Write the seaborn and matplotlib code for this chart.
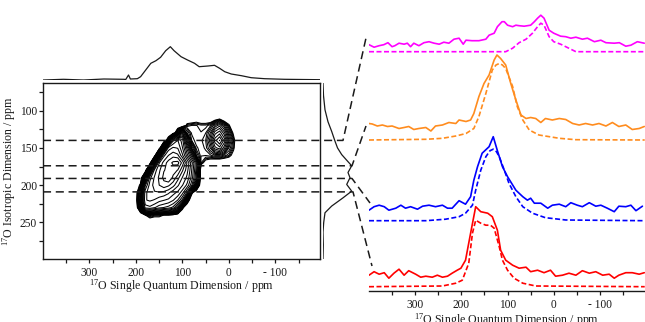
import numpy as np
import matplotlib
matplotlib.use("Agg")
import matplotlib.pyplot as plt
import seaborn as sns
from matplotlib.lines import Line2D

sns.set_theme(style="ticks")
plt.rcParams["font.family"] = ["Liberation Serif", "DejaVu Serif"]
plt.rcParams["mathtext.fontset"] = "custom"
plt.rcParams["mathtext.rm"] = "Liberation Serif"
plt.rcParams["lines.scale_dashes"] = False

# ---- 2D spectrum (intensity) ----
sq_ppm = [200, 190, 180, 170, 160, 150, 140, 130, 120, 110, 100, 90,
          80, 70, 60, 50, 40, 30, 20, 10, 0, -10, -20, -30]
iso_ppm = [100, 110, 120, 130, 140, 150, 160, 170, 180, 190, 200, 210, 220, 230, 240, 250]
intensity = [
    [0, 0, 0, 0, 0, 0, 0, 0, 0, 0, 0, 0, 0, 0, 0, 0, 0, 0, 0, 0, 0, 0, 0, 0],
    [0, 0, 0, 0, 0, 0, 0, 0, 0, 0, 0, 0, 0, 1, 0, 0, 0, 1, 2, 0, 0, 0, 0, 0],
    [0, 0, 0, 0, 0, 0, 0, 0, 0, 0, 0, 4, 4.6, 4.6, 4.2, 4.2, 5, 8, 10, 7, 3.5, 0, 0, 0],
    [0, 0, 0, 0, 0, 0, 0, 0, 0, 8, 22, 8, 5, 4.6, 4.6, 5.2, 8, 13, 15, 11, 6, 2.5, 0, 0],
    [0, 0, 0, 0, 0, 0, 0, 6, 46, 55, 44, 20, 6, 4.6, 5, 6, 10, 17, 21, 15, 8, 4, 0, 0],
    [0, 0, 0, 0, 0, 0, 16, 58, 64, 62, 48, 30, 12, 5.5, 4.6, 5.5, 8, 13, 15, 11, 6, 3.5, 0, 0],
    [0, 0, 0, 0, 0, 22, 60, 72, 78, 74, 56, 38, 24, 8, 4.6, 4.6, 5, 6, 6, 5, 4, 2, 0, 0],
    [0, 0, 0, 0, 24, 62, 76, 88, 98, 100, 78, 54, 38, 24, 4, 2, 1, 0, 0, 0, 0, 0, 0, 0],
    [0, 0, 0, 20, 58, 70, 82, 86, 88, 82, 64, 50, 36, 22, 0, 0, 0, 0, 0, 0, 0, 0, 0, 0],
    [0, 0, 14, 52, 64, 74, 86, 95, 80, 66, 54, 46, 34, 20, 0, 0, 0, 0, 0, 0, 0, 0, 0, 0],
    [0, 4, 40, 58, 66, 72, 78, 74, 66, 56, 48, 40, 28, 10, 0, 0, 0, 0, 0, 0, 0, 0, 0, 0],
    [0, 12, 52, 60, 62, 62, 60, 56, 50, 46, 38, 26, 4, 0, 0, 0, 0, 0, 0, 0, 0, 0, 0, 0],
    [0, 16, 54, 56, 54, 50, 48, 46, 42, 36, 26, 6, 0, 0, 0, 0, 0, 0, 0, 0, 0, 0, 0, 0],
    [0, 10, 44, 46, 42, 38, 36, 34, 30, 20, 4, 0, 0, 0, 0, 0, 0, 0, 0, 0, 0, 0, 0, 0],
    [0, 0, 3, 5, 4, 4, 3, 3, 2, 0, 0, 0, 0, 0, 0, 0, 0, 0, 0, 0, 0, 0, 0, 0],
    [0, 0, 0, 0, 0, 0, 0, 0, 0, 0, 0, 0, 0, 0, 0, 0, 0, 0, 0, 0, 0, 0, 0, 0],
]

# projections
top_ppm = [400, 356, 313, 269, 226, 222, 216, 212, 197, 190, 179, 168, 157, 147, 136, 126,
           118, 103, 89, 74, 64, 45, 31, 20, 9, -5, -27, -48, -77, -120, -197]
top_h = [0, 0.7, 0, 1, 0.7, 0.5, 5, 1, 1.3, 3.3, 10, 16.7, 19.3, 22.7, 29.3, 33.3,
         29.3, 23.3, 20, 16.7, 13.3, 14, 14.7, 11.7, 8.3, 6, 4.3, 2.3, 1.3, 0.7, 0.3]
side_ppm = [63, 80, 99, 115, 128, 141, 150, 159, 167, 174, 183, 190, 199, 208, 217, 228,
            237, 250, 263, 280, 299]
side_h = [0, 0.5, 2, 5, 8.7, 12, 14.5, 18.7, 24, 28.7, 25, 27, 23.7, 28.7, 20, 8.7,
          2, 0.7, 0, 0.3, 0]

# slices (isotropic ppm) shown as dashed lines
slice_ppm = [140, 174, 191, 209]

# ---- 1D slices (experimental and fit) ----
mag_ppm = [400, 389, 378, 368, 359, 350, 344, 335, 324, 317, 310, 303, 292, 281, 270, 259,
           248, 238, 227, 216, 205, 196, 190, 177, 162, 147, 140, 129, 122, 112, 107, 100,
           89, 82, 75, 64, 50, 42, 35, 28, 21, 10, 0, -15, -26, -37, -48, -62, -73, -88,
           -102, -113, -131, -142, -156, -167, -181, -196]
mag_h = [7, 4.5, 6, 7, 9, 5, 6, 8.5, 7.5, 8.5, 5, 8.5, 6, 9, 10, 8.5,
         7.5, 9.5, 8.5, 12.5, 13.5, 7.5, 11.5, 11, 11, 12.5, 16.5, 18.5, 25, 30, 30, 26.5,
         25, 26.5, 26, 25.5, 26.5, 30, 33.5, 36.5, 33.5, 21.5, 18.5, 15.5, 15, 13.5, 14.5, 12.5, 13.5, 10,
         11.5, 9, 8.5, 9, 5.5, 6.5, 10, 8.5]
magfit_ppm = [400, 104, 89, 75, 60, 46, 35, 28, 21, 10, 0, -15, -26, -37, -48, -197]
magfit_h = [0, 0, 3.5, 9, 12.5, 18.5, 25, 28.5, 26.5, 15, 10, 7.5, 5, 2.5, 0, 0]

org_ppm = [400, 393, 382, 371, 360, 350, 335, 324, 314, 303, 292, 277, 266, 256, 241, 227,
           212, 205, 190, 180, 173, 162, 151, 140, 129, 123, 115, 104, 93, 82, 71, 60,
           50, 39, 28, 18, 3, -12, -26, -41, -55, -69, -84, -98, -113, -127, -141, -156,
           -170, -185, -196]
org_h = [16.5, 16, 14, 15, 13.5, 14, 11.5, 12.5, 13.5, 10.5, 11.5, 12.5, 9, 14, 15, 17.5,
         16.5, 20, 18.5, 20, 26.5, 43.5, 56.5, 65, 80, 85, 81.5, 75, 56.5, 40, 25, 21.5,
         22.5, 21.5, 17.5, 21.5, 20, 21.5, 20.5, 16.5, 15, 16.5, 15, 16.5, 14, 17.5, 13.5, 15,
         10.5, 11.5, 13.5]
orgfit_ppm = [400, 277, 241, 212, 190, 173, 162, 147, 133, 125, 118, 111, 104, 89, 79, 67,
              53, 32, -12, -48, -197]
orgfit_h = [0, 0.7, 1.7, 4, 6.5, 11.5, 23.5, 46.5, 70, 75, 76.5, 75, 71.5, 53.5, 33.5, 20,
            10, 5, 1.7, 0.3, 0]

blu_ppm = [400, 389, 378, 367, 357, 342, 331, 321, 310, 295, 284, 270, 256, 241, 230, 220,
           205, 191, 180, 173, 165, 155, 140, 131, 122, 111, 100, 82, 67, 57, 50, 42,
           28, 13, 3, -12, -26, -37, -51, -62, -77, -91, -102, -116, -131, -141, -156, -167,
           -178, -192]
blu_h = [10.5, 14, 15.5, 14, 10.5, 12.5, 15.5, 12.5, 14, 11.5, 14.5, 15.5, 14, 15.5, 12.5, 12.5,
         20, 16.5, 24, 40.5, 54, 67.5, 74, 84, 70, 54, 44, 30.5, 24, 20.5, 22.5, 17.5,
         17.5, 12.5, 15.5, 16.5, 14, 18, 15.5, 14, 18, 14.5, 15.5, 12.5, 9, 14.5, 14, 15.5,
         10, 14.5]
blufit_ppm = [400, 277, 234, 205, 191, 176, 169, 158, 147, 138, 131, 124, 118, 107, 97, 82,
              67, 46, 18, -26, -197]
blufit_h = [0, 0, 1.5, 4, 7.5, 15.5, 30.5, 50.5, 64, 70, 71.5, 69, 64, 50.5, 37.5, 24,
            14, 7.5, 3, 0.7, 0]

red_ppm = [400, 389, 378, 367, 357, 346, 335, 324, 314, 299, 288, 277, 263, 252, 241, 230,
           220, 209, 201, 191, 180, 169, 158, 143, 133, 122, 115, 104, 89, 75, 60, 50,
           35, 21, 7, -4, -19, -33, -48, -62, -77, -91, -106, -120, -131, -141, -156, -170,
           -185, -196]
red_h = [11.5, 15, 12.5, 14, 8.5, 13.5, 17.5, 11.5, 16, 12.5, 9.5, 10.5, 9.5, 11.5, 9.5, 10.5,
         13.5, 16.5, 18.5, 26.5, 53.5, 80, 75, 73.5, 70, 56.5, 36.5, 26.5, 21.5, 18.5, 19.5, 15,
         16.5, 14, 16.5, 10.5, 11.5, 13.5, 11.5, 16, 13.5, 15, 11.5, 12.5, 8.5, 11.5, 14, 14,
         12.5, 14]
redfit_ppm = [400, 241, 212, 198, 184, 176, 169, 158, 147, 137, 129, 118, 111, 100, 86, 67, 39, -197]
redfit_h = [0, 0.7, 3.5, 6.5, 23.5, 53.5, 66.5, 63.5, 61.5, 61.5, 58.5, 40, 26.5, 16.5, 8.5, 3.5, 0.7, 0]

W, H = 645, 322
fig = plt.figure(figsize=(W / 100, H / 100), dpi=100)


def px_rect(x0, y0, x1, y1):
    return [x0 / W, 1 - y1 / H, (x1 - x0) / W, (y1 - y0) / H]


lab_sq = r"$\mathregular{^{17}}$O Single Quantum Dimension / ppm"
lab_iso = r"$\mathregular{^{17}}$O Isotropic Dimension / ppm"
tick_font = 8.3
lab_font = 8.6
ink = "#1a1a1a"

# ---- 2D contour ----
ax2d = fig.add_axes(px_rect(43, 83, 320, 259))
ax2d.contour(sq_ppm, iso_ppm, intensity, levels=np.geomspace(3, 95, 26),
             colors="black", linewidths=0.75)
ax2d.set_xlim(400, -196)
ax2d.set_ylim(299, 63)
ax2d.set_xticks([300, 200, 100, 0, -100])
ax2d.set_xticklabels(["300", "200", "100", "0", "- 100"])
ax2d.set_xticks([350, 250, 150, 50, -50, -150], minor=True)
ax2d.set_yticks([100, 150, 200, 250])
ax2d.set_yticks([75, 125, 175, 225, 275], minor=True)
ax2d.tick_params(which="both", direction="out", length=3.2, width=0.9, color=ink,
                 labelsize=tick_font, labelcolor=ink)
ax2d.tick_params(axis="x", which="both", pad=2.5)
ax2d.tick_params(axis="y", which="both", pad=1)
for s in ax2d.spines.values():
    s.set_linewidth(1.0)
    s.set_color(ink)
ax2d.set_xlabel(lab_sq, fontsize=lab_font, color=ink)
ax2d.set_ylabel(lab_iso, fontsize=lab_font, color=ink)
ax2d.xaxis.set_label_coords(0.5, -0.105)
ax2d.yaxis.set_label_coords(-0.092, 0.5)

# ---- projections ----
ax_top = fig.add_axes(px_rect(43, 44, 320, 80))
ax_top.plot(top_ppm, top_h, color=ink, lw=0.9)
ax_top.set_xlim(400, -196)
ax_top.set_ylim(0, 36)
ax_top.axis("off")

ax_side = fig.add_axes(px_rect(323, 83, 359, 259))
ax_side.plot(side_h, side_ppm, color=ink, lw=0.9)
ax_side.set_xlim(0, 36)
ax_side.set_ylim(299, 63)
ax_side.axis("off")

# ---- 1D slices ----
ax1 = fig.add_axes(px_rect(369, 0, 645, 291))
traces = [
    (mag_ppm, mag_h, magfit_ppm, magfit_h, "#FF00FF", 51.7),
    (org_ppm, org_h, orgfit_ppm, orgfit_h, "#FF8C1E", 140.0),
    (blu_ppm, blu_h, blufit_ppm, blufit_h, "#0000FF", 220.7),
    (red_ppm, red_h, redfit_ppm, redfit_h, "#FF0000", 286.7),
]
for xp, yh, fxp, fyh, col, base_px in traces:
    off = 291 - base_px
    sns.lineplot(x=xp, y=np.array(yh) + off, ax=ax1, color=col, lw=1.2,
                 sort=False, estimator=None, legend=False)
    ax1.plot(fxp, np.array(fyh) + off, color=col, lw=1.2, linestyle=(0, (3.6, 1.8)))
ax1.set_xlim(400, -197.6)
ax1.set_ylim(0, 291)
for side in ["top", "right", "left"]:
    ax1.spines[side].set_visible(False)
ax1.spines["bottom"].set_linewidth(1.0)
ax1.spines["bottom"].set_color(ink)
ax1.set_yticks([])
ax1.set_xticks([300, 200, 100, 0, -100])
ax1.set_xticklabels(["300", "200", "100", "0", "- 100"])
ax1.set_xticks([350, 250, 150, 50, -50, -150], minor=True)
ax1.tick_params(axis="x", which="both", direction="out", length=3, width=0.9, color=ink,
                labelsize=tick_font, labelcolor=ink, pad=2.5)
ax1.set_xlabel(lab_sq, fontsize=lab_font, color=ink)
ax1.xaxis.set_label_coords(0.5, -0.07)

# ---- dashed slice markers and connectors ----
slice_end_px = [343, 352, 352, 353]
slice_target_px = [(366, 38), (366, 126), (370, 203), (372, 266)]
inv = fig.transFigure.inverted()
for p, x_end, (tx, ty) in zip(slice_ppm, slice_end_px, slice_target_px):
    yf = inv.transform(ax2d.transData.transform((0, p)))[1]
    xs = [43 / W, x_end / W, tx / W]
    ys = [yf, yf, 1 - ty / H]
    fig.add_artist(Line2D(xs, ys, transform=fig.transFigure, color=ink, lw=1.1,
                          linestyle=(0, (5.8, 3.4))))

fig.savefig("out.png", dpi=100)
